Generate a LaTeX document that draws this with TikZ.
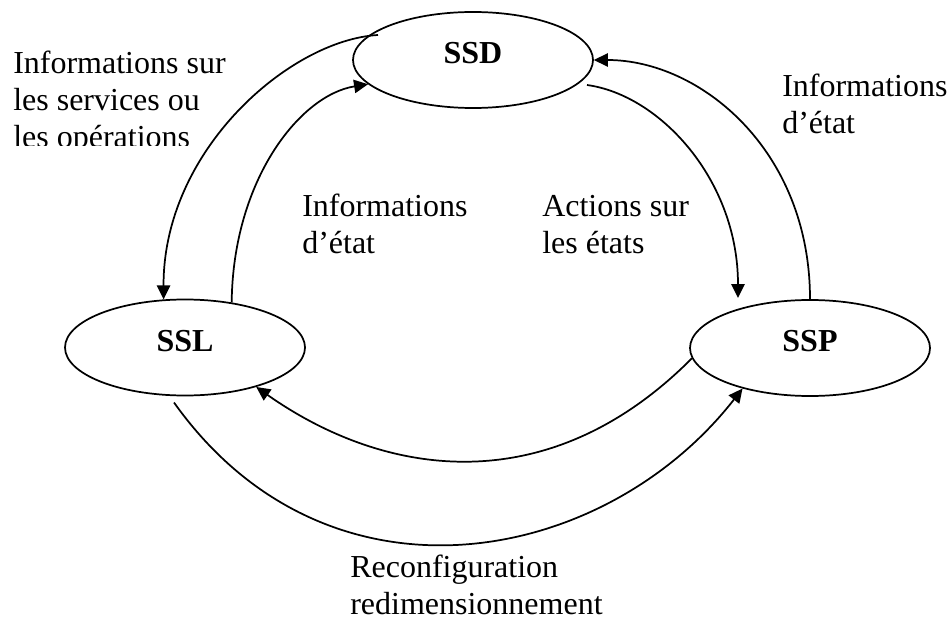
\documentclass[tikz,border=0pt]{standalone}
\usepackage{fontspec}
\setmainfont{Liberation Serif}
\usetikzlibrary{shapes.geometric,arrows.meta}
\begin{document}
\begin{tikzpicture}[x=0.75pt,y=-0.75pt,
  state/.style={ellipse,draw,line width=1.3pt,minimum width=180pt,minimum height=72pt,inner sep=0pt,
    font=\fontsize{24}{27.75}\selectfont\bfseries,text depth=10pt},
  lab/.style={font=\fontsize{24}{27.75}\selectfont,align=left,anchor=base west,inner sep=0pt},
  conn/.style={line width=1.3pt,-{Triangle[length=10.5pt,width=10pt]}}]
\useasboundingbox (0,0) rectangle (948,620);
\node[state] (SSD) at (473,60) {SSD};
\node[state] (SSL) at (185,347.5) {SSL};
\node[state] (SSP) at (810,348) {SSP};
\begin{scope}
  \clip (0,0) rectangle (340,146);
  \node[lab] (l1) at (13,148) {Informations sur\\les services ou\\les opérations};
\end{scope}
\node[lab] (l2) at (302,253) {Informations\\d’état};
\node[lab] (l3) at (542,253) {Actions sur\\les états};
\node[lab] (l4) at (782,134) {Informations\\d’état};
\node[lab] (l5) at (350,614) {Reconfiguration\\redimensionnement};
\draw[conn] ([shift={(-95,-25)}]SSD.center) .. controls (290,40) and (163,150) .. (SSL.114);
\draw[conn] (SSL.44) .. controls (233,180) and (300,95) .. (SSD.193);
\draw[conn] ([shift={(114,25)}]SSD.center) .. controls (660,95) and (738,180) .. ([shift={(-72,-50)}]SSP.center);
\draw[conn] (SSP.north) .. controls (810,150) and (700,60) .. (SSD.east);
\draw[conn] (SSP.185) .. controls (550,501) and (387,479) .. (SSL.331);
\draw[conn] ([shift={(-11,55)}]SSL.center) .. controls (328,619) and (604,566) .. (SSP.211);
\end{tikzpicture}
\end{document}
